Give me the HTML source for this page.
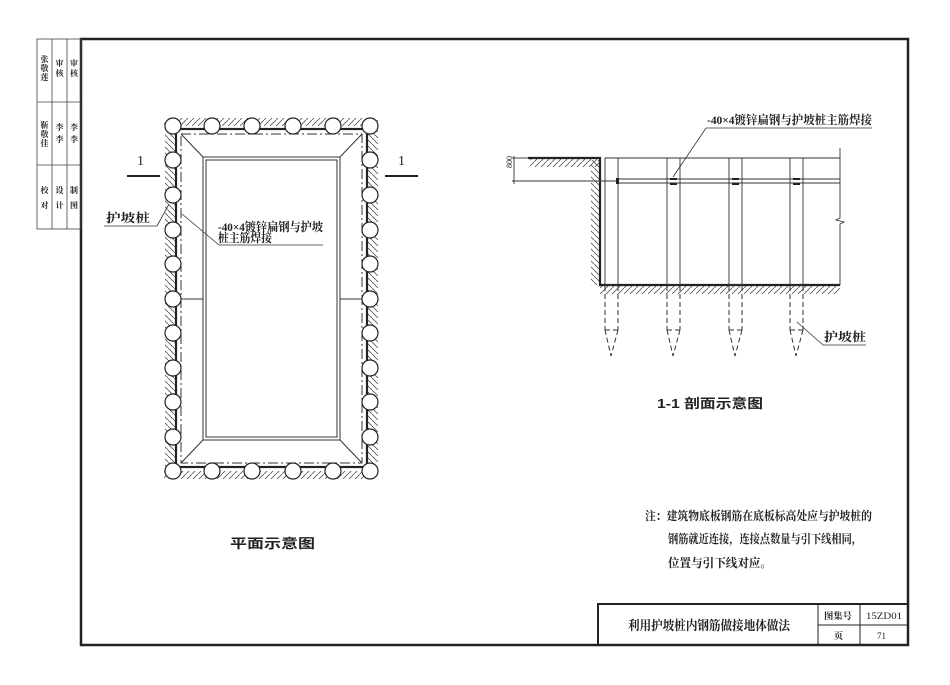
<!DOCTYPE html>
<html><head><meta charset="utf-8"><style>
html,body{margin:0;padding:0;background:#fff;}
svg{display:block;}
text{font-family:"Liberation Serif","Noto Serif CJK SC","Noto Sans CJK SC",serif;fill:#222;}
.s{font-family:"Liberation Sans","Noto Sans CJK SC",sans-serif;}
</style></head><body>
<svg width="950" height="685" viewBox="0 0 950 685" xmlns="http://www.w3.org/2000/svg">
<defs>
<pattern id="h" width="6" height="6" patternUnits="userSpaceOnUse">
<path d="M0 6 L6 0" stroke="#555" stroke-width="0.8"/>
</pattern>
<pattern id="hv" width="6" height="6" patternUnits="userSpaceOnUse">
<path d="M0 0 L6 6" stroke="#555" stroke-width="0.8"/>
</pattern>
</defs>
<rect width="950" height="685" fill="#fff"/>
<rect x="81" y="39" width="827" height="606" fill="none" stroke="#222" stroke-width="2.5"/>
<!-- side table -->
<g stroke="#444" stroke-width="0.8" fill="none">
<rect x="37" y="39" width="44" height="190"/>
<line x1="52" y1="39" x2="52" y2="229"/><line x1="67" y1="39" x2="67" y2="229"/>
<line x1="37" y1="102" x2="81" y2="102"/><line x1="37" y1="165" x2="81" y2="165"/>
</g>
<g font-size="8" fill="#333" text-anchor="middle" font-weight="bold">
<text x="44.5" y="62">张</text><text x="44.5" y="71">敬</text><text x="44.5" y="80">莲</text>
<text x="59.5" y="66">审</text><text x="59.5" y="76">核</text>
<text x="74" y="66">审</text><text x="74" y="76">核</text>
<text x="44.5" y="128">靳</text><text x="44.5" y="137">敬</text><text x="44.5" y="146">佳</text>
<text x="59.5" y="130">李</text><text x="59.5" y="142">李</text>
<text x="74" y="130">李</text><text x="74" y="142">李</text>
<text x="44.5" y="193">校</text><text x="44.5" y="208">对</text>
<text x="59.5" y="193">设</text><text x="59.5" y="208">计</text>
<text x="74" y="193">制</text><text x="74" y="208">图</text>
</g>

<!-- PLAN VIEW -->
<rect x="164" y="118" width="214" height="8" fill="url(#h)"/>
<rect x="164" y="471" width="214" height="8" fill="url(#h)"/>
<rect x="165" y="126" width="10" height="345" fill="url(#hv)"/>
<rect x="368" y="126" width="10" height="345" fill="url(#hv)"/>
<rect x="176" y="129" width="191" height="338" fill="none" stroke="#222" stroke-width="2.2"/>
<rect x="181" y="134" width="181" height="329" fill="none" stroke="#333" stroke-width="1" stroke-dasharray="10,3,2,3"/>
<rect x="203" y="157" width="137" height="283" fill="none" stroke="#333" stroke-width="1"/>
<rect x="206" y="160" width="131" height="277" fill="none" stroke="#333" stroke-width="1"/>
<g stroke="#333" stroke-width="1">
<line x1="181" y1="134" x2="203" y2="157"/><line x1="362" y1="134" x2="340" y2="157"/>
<line x1="181" y1="463" x2="203" y2="440"/><line x1="362" y1="463" x2="340" y2="440"/>
<line x1="176" y1="299" x2="203" y2="299"/><line x1="340" y1="299" x2="367" y2="299"/>
</g>
<g fill="#fff" stroke="#222" stroke-width="1.2">
<circle cx="173" cy="126" r="8"/><circle cx="212" cy="126" r="8"/><circle cx="252" cy="126" r="8"/><circle cx="293" cy="126" r="8"/><circle cx="333" cy="126" r="8"/><circle cx="370" cy="126" r="8"/>
<circle cx="173" cy="471" r="8"/><circle cx="212" cy="471" r="8"/><circle cx="252" cy="471" r="8"/><circle cx="293" cy="471" r="8"/><circle cx="333" cy="471" r="8"/><circle cx="370" cy="471" r="8"/>
<circle cx="173" cy="160" r="8"/><circle cx="173" cy="195" r="8"/><circle cx="173" cy="230" r="8"/><circle cx="173" cy="264" r="8"/><circle cx="173" cy="299" r="8"/><circle cx="173" cy="333" r="8"/><circle cx="173" cy="368" r="8"/><circle cx="173" cy="402" r="8"/><circle cx="173" cy="437" r="8"/>
<circle cx="370" cy="160" r="8"/><circle cx="370" cy="195" r="8"/><circle cx="370" cy="230" r="8"/><circle cx="370" cy="264" r="8"/><circle cx="370" cy="299" r="8"/><circle cx="370" cy="333" r="8"/><circle cx="370" cy="368" r="8"/><circle cx="370" cy="402" r="8"/><circle cx="370" cy="437" r="8"/>
</g>
<line x1="127" y1="176" x2="160" y2="176" stroke="#222" stroke-width="2"/>
<line x1="385" y1="176" x2="418" y2="176" stroke="#222" stroke-width="2"/>
<text x="137" y="165" font-size="14">1</text>
<text x="398" y="165" font-size="14">1</text>
<text x="106" y="222" font-size="12" font-weight="bold" textLength="44" lengthAdjust="spacingAndGlyphs">护坡桩</text>
<line x1="104" y1="226" x2="157" y2="226" stroke="#333" stroke-width="0.8"/>
<line x1="157" y1="226" x2="169" y2="204" stroke="#333" stroke-width="0.8"/>
<text x="218" y="231" font-size="12" font-weight="bold" textLength="105" lengthAdjust="spacingAndGlyphs">-40×4镀锌扁钢与护坡</text>
<text x="218" y="242" font-size="12" font-weight="bold" textLength="54" lengthAdjust="spacingAndGlyphs">桩主筋焊接</text>
<line x1="219" y1="245" x2="323" y2="245" stroke="#333" stroke-width="0.8"/>
<line x1="219" y1="245" x2="182" y2="214" stroke="#333" stroke-width="0.8"/>
<text x="230" y="548" font-size="13" font-weight="bold" class="s" textLength="85" lengthAdjust="spacingAndGlyphs">平面示意图</text>

<!-- SECTION VIEW -->
<rect x="530" y="159" width="70" height="8" fill="url(#h)"/>
<rect x="591" y="160" width="9" height="125" fill="url(#hv)"/>
<rect x="600" y="286" width="240" height="8" fill="url(#h)"/>
<polyline points="528,158 600,158 600,285 840,285" stroke="#222" stroke-width="2.2" fill="none"/>
<g stroke="#333" stroke-width="0.9" fill="none">
<line x1="605" y1="158" x2="840" y2="158"/>
<line x1="618" y1="179" x2="840" y2="179"/>
<line x1="618" y1="183" x2="840" y2="183"/>
<rect x="605" y="158" width="13" height="127"/>
<rect x="667" y="158" width="13" height="127"/>
<rect x="729" y="158" width="13" height="127"/>
<rect x="790" y="158" width="13" height="127"/>
<polyline points="840,148 840,218 836,220 844,222 840,224 840,285"/>
<line x1="512" y1="158" x2="528" y2="158"/>
<line x1="512" y1="181" x2="618" y2="181"/>
<line x1="514" y1="156" x2="514" y2="184"/>
</g>
<g fill="#222"><rect x="616" y="178" width="3" height="6"/><rect x="670" y="178" width="7" height="2"/><rect x="670" y="183" width="7" height="2"/><rect x="732" y="178" width="7" height="2"/><rect x="732" y="183" width="7" height="2"/><rect x="793" y="178" width="7" height="2"/><rect x="793" y="183" width="7" height="2"/></g>
<text x="512" y="172" font-size="8" transform="rotate(-90 510 170)">800</text>
<g stroke="#333" stroke-width="1" fill="none" stroke-dasharray="5,3">
<path d="M605 286 V330 M618 286 V330 M605 330 H618 M605 330 L611 356 M618 330 L611 356"/>
<path d="M667 286 V330 M680 286 V330 M667 330 H680 M667 330 L673 356 M680 330 L673 356"/>
<path d="M729 286 V330 M742 286 V330 M729 330 H742 M729 330 L735 356 M742 330 L735 356"/>
<path d="M790 286 V330 M803 286 V330 M790 330 H803 M790 330 L796 356 M803 330 L796 356"/>
</g>
<text x="707" y="124" font-size="12" font-weight="bold" textLength="165" lengthAdjust="spacingAndGlyphs">-40×4镀锌扁钢与护坡桩主筋焊接</text>
<line x1="706" y1="128" x2="872" y2="128" stroke="#333" stroke-width="0.8"/>
<line x1="706" y1="128" x2="673" y2="177" stroke="#333" stroke-width="0.8"/>
<text x="824" y="341" font-size="12" font-weight="bold" textLength="42" lengthAdjust="spacingAndGlyphs">护坡桩</text>
<line x1="823" y1="345" x2="866" y2="345" stroke="#333" stroke-width="0.8"/>
<line x1="823" y1="345" x2="797" y2="322" stroke="#333" stroke-width="0.8"/>
<text x="657" y="408" font-size="13" font-weight="bold" class="s" textLength="106" lengthAdjust="spacingAndGlyphs">1-1  剖面示意图</text>

<g font-size="12" font-weight="bold">
<text x="645" y="520" textLength="227" lengthAdjust="spacingAndGlyphs">注：建筑物底板钢筋在底板标高处应与护坡桩的</text>
<text x="668" y="543" textLength="194" lengthAdjust="spacingAndGlyphs">钢筋就近连接，连接点数量与引下线相同，</text>
<text x="668" y="567" textLength="104" lengthAdjust="spacingAndGlyphs">位置与引下线对应。</text>
</g>

<g stroke="#222" fill="none">
<rect x="598" y="604" width="310" height="41" stroke-width="2"/>
<line x1="818" y1="604" x2="818" y2="645" stroke-width="1"/>
<line x1="860" y1="604" x2="860" y2="645" stroke-width="1"/>
<line x1="818" y1="625" x2="908" y2="625" stroke-width="1"/>
</g>
<text x="628" y="630" font-size="13" font-weight="bold" textLength="162" lengthAdjust="spacingAndGlyphs">利用护坡桩内钢筋做接地体做法</text>
<text x="824" y="619" font-size="9" font-weight="bold" textLength="28" lengthAdjust="spacingAndGlyphs">图集号</text>
<text x="866" y="619" font-size="9" textLength="36" lengthAdjust="spacingAndGlyphs">15ZD01</text>
<text x="834" y="639" font-size="9" font-weight="bold">页</text>
<text x="877" y="639" font-size="9">71</text>
</svg>
</body></html>
